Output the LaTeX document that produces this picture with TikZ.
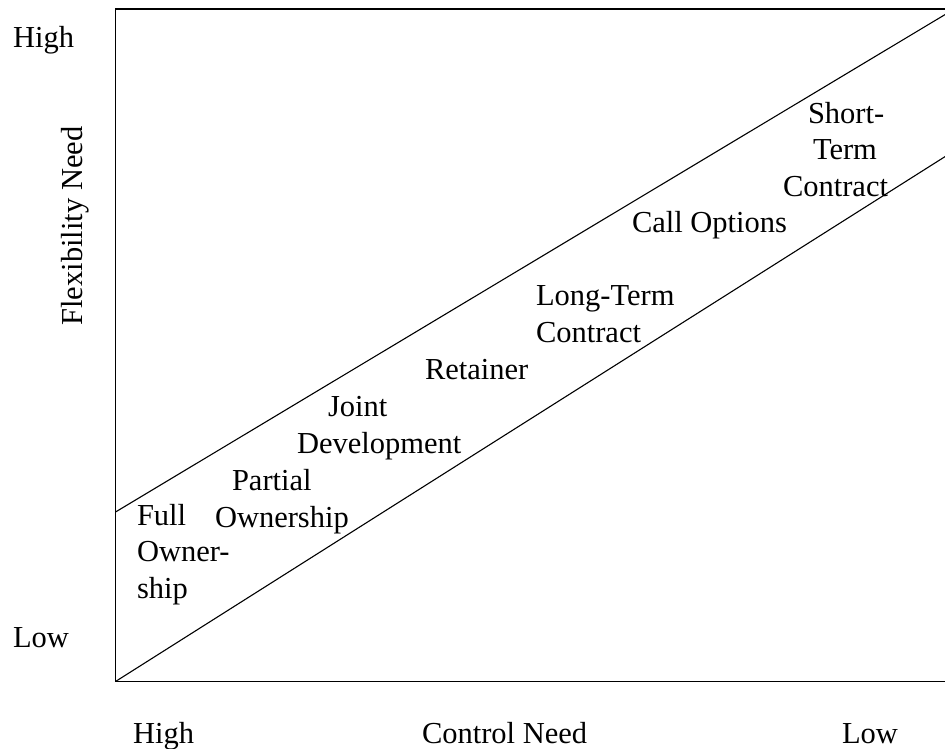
\documentclass[tikz,border=0pt]{standalone}
\usepackage{fontspec}
\setmainfont{Liberation Serif}
\begin{document}
\begin{tikzpicture}[x=1pt,y=-1pt,
  lbl/.style={inner sep=0pt, outer sep=0pt, anchor=base west, align=left,
    font=\fontsize{30.5}{36.5}\selectfont},
  frame/.style={line width=1.3pt},
  diag/.style={line width=1.1pt}]
\useasboundingbox (0,0) rectangle (945,748);
% frame
\coordinate (tr) at (946,9);
\coordinate (tl) at (115.5,9);
\coordinate (bl) at (115.5,681.5);
\coordinate (br) at (946,681.5);
\draw[frame] (tr) -- (tl) -- (bl) -- (br);
% band lines
\coordinate (u1) at (115.5,512);
\coordinate (u2) at (946,14);
\coordinate (l1) at (115.5,681.5);
\coordinate (l2) at (946,156);
\draw[diag] (u1) -- (u2);
\draw[diag] (l1) -- (l2);
% axis labels (base anchor of multi-line nodes = last line)
\node[lbl] (yhigh) at (13,47) {High};
\node[lbl] (ylow) at (13,647) {Low};
\node[lbl, anchor=base, rotate=90] (ylab) at (82,226) {Flexibility Need};
\node[lbl] (xhigh) at (133,743) {High};
\node[lbl] (xlab) at (422,743) {Control Need};
\node[lbl] (xlow) at (842,743) {Low};
% options
\node[lbl] (full) at (137,598) {Full\\Owner-\\ship};
\node[lbl] (partial) at (215,527) {\hspace*{17pt}Partial\\Ownership};
\node[lbl] (joint) at (297,453) {\hspace*{31pt}Joint\\Development};
\node[lbl] (retainer) at (425,379) {Retainer};
\node[lbl] (longterm) at (536,342) {Long-Term\\Contract};
\node[lbl] (call) at (632,232) {Call Options};
\node[lbl] (short) at (783,196) {\hspace*{25pt}Short-\\\hspace*{30pt}Term\\Contract};
\end{tikzpicture}
\end{document}
